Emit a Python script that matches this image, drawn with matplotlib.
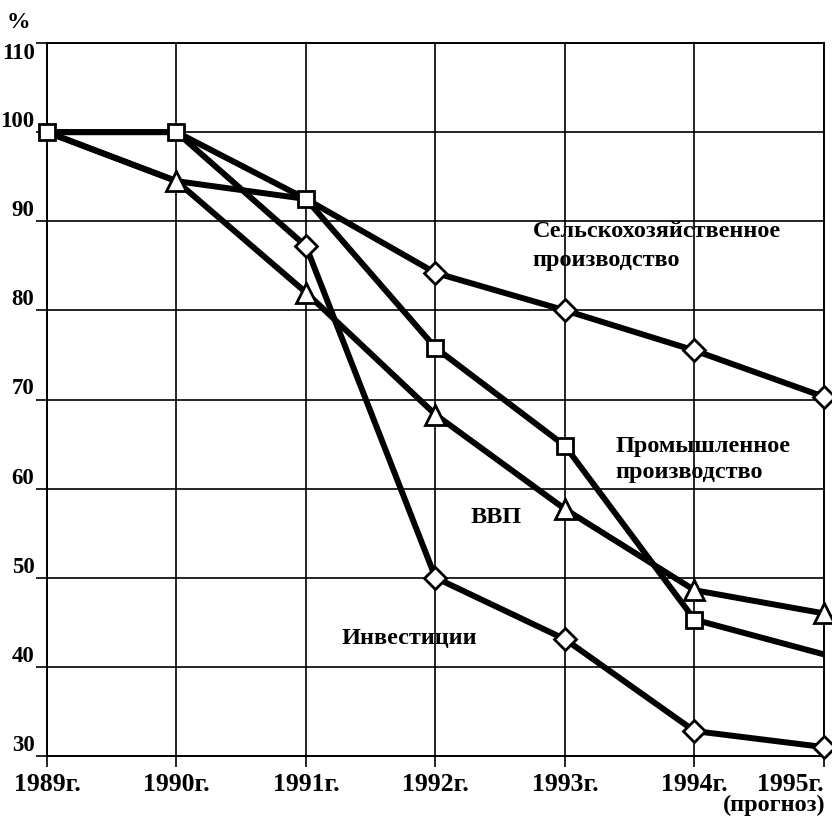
import matplotlib
matplotlib.use("Agg")
import matplotlib.pyplot as plt

plt.rcParams['font.family'] = ['Liberation Serif', 'DejaVu Serif']
plt.rcParams['font.weight'] = 'bold'

# Data (1989 = 100%)
years = [1989, 1990, 1991, 1992, 1993, 1994, 1995]
year_labels = ["1989г.", "1990г.", "1991г.", "1992г.", "1993г.", "1994г.", "1995г."]
agriculture = [100, 94.5, 92.5, 84.2, 80.0, 75.5, 70.3]
industry = [100, 100, 92.5, 75.8, 64.8, 45.3, 41.4]
gdp = [100, 94.5, 82.0, 68.3, 57.7, 48.6, 46.0]
investment = [100, 100, 87.2, 50.0, 43.1, 32.8, 31.0]
y_ticks = [30, 40, 50, 60, 70, 80, 90, 100, 110]

fig = plt.figure(figsize=(8.32, 8.18), dpi=100)
ax = fig.add_axes([47 / 832, 1 - 756 / 818, 777 / 832, 713 / 818])

lw = 4.3
for series in (agriculture, industry, gdp, investment):
    ax.plot(years, series, color="black", lw=lw, solid_joinstyle="miter", zorder=3)

# markers on top of all lines
mk = dict(color="black", markerfacecolor="white", markeredgecolor="black",
          markeredgewidth=2.0, linestyle="none", zorder=4, clip_on=False)
ax.plot(years[3:], agriculture[3:], marker="D", markersize=11.5, **mk)
ax.plot(years[2:], investment[2:], marker="D", markersize=11.5, **mk)
ax.plot(years[1:], gdp[1:], marker="^", markersize=14.5, **mk)
ax.plot(years[:-1], industry[:-1], marker="s", markersize=11.5, **mk)

ax.set_xlim(years[0], years[-1])
ax.set_ylim(30, 110)
ax.set_xticks(years)
ax.set_xticklabels(year_labels)
ax.set_yticks(y_ticks)
ax.set_yticklabels([str(v) for v in y_ticks])
ax.grid(True, color="black", lw=1.2)
for sp in ax.spines.values():
    sp.set_linewidth(1.4)

ax.tick_params(axis="y", length=8, width=1.2, pad=1, labelsize=16.5)
ax.tick_params(axis="x", length=8, width=1.2, pad=4, labelsize=18.5)
for lbl in ax.get_yticklabels():
    lbl.set_va("bottom")
ax.get_yticklabels()[-1].set_va("top")
ax.get_xticklabels()[-1].set_ha("right")
ax.get_xticklabels()[-1].set_x(years[-1] + 0.02)

fs = 17.5
ax.text(1992.75, 88.8, "Сельскохозяйственное", fontsize=fs, ha="left", va="center")
ax.text(1992.75, 85.6, "производство", fontsize=fs, ha="left", va="center")
ax.text(1993.39, 64.7, "Промышленное", fontsize=fs, ha="left", va="center")
ax.text(1993.39, 61.8, "производство", fontsize=fs, ha="left", va="center")
ax.text(1992.47, 56.8, "ВВП", fontsize=fs, ha="center", va="center")
ax.text(1991.80, 43.2, "Инвестиции", fontsize=fs, ha="center", va="center")
fig.text(18 / 832, 1 - 22 / 818, "%", fontsize=17, ha="center", va="center")
fig.text(825 / 832, 1 - 816 / 818, "(прогноз)", fontsize=fs, ha="right", va="bottom")

fig.savefig("out.png", dpi=100)
